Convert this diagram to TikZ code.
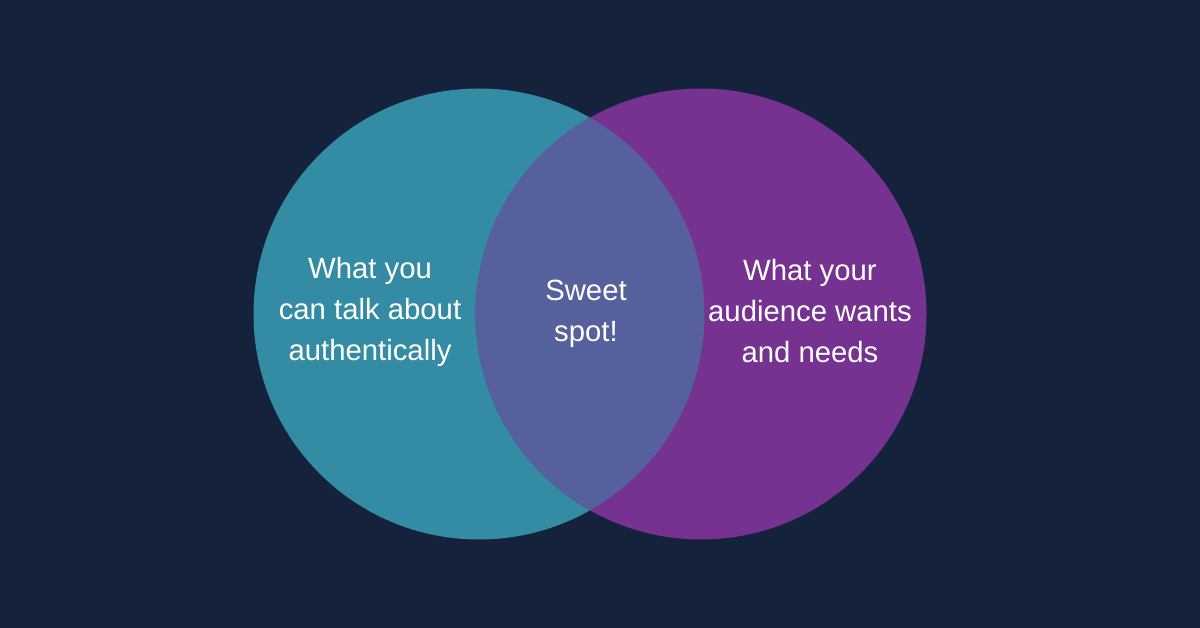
\documentclass[tikz,border=0pt]{standalone}
\usepackage{fontspec}
\setmainfont{Liberation Sans}
\definecolor{bg}{HTML}{15223B}
\definecolor{teal}{HTML}{338BA4}
\definecolor{purp}{HTML}{763290}
\definecolor{mix}{HTML}{56609C}
\begin{document}
\begin{tikzpicture}[x=1pt,y=-1pt,
  blob/.style={circle,inner sep=0pt,minimum size=451pt},
  lbl/.style={text=white,align=center,font=\fontsize{29.3}{41}\selectfont}]
\fill[bg] (0,0) rectangle (1200,628);
\useasboundingbox (0,0) rectangle (1200,628);
\node[blob,fill=teal] (L) at (479,314) {};
\node[blob,fill=purp] (R) at (701,314) {};
\begin{scope}
\clip (479,314) circle[radius=225.5pt];
\fill[mix] (701,314) circle[radius=225.5pt];
\end{scope}
\node[lbl] (lt) at (370,311.5) {What you\\can talk about\\authentically};
\node[lbl] (ct) at (586,314) {Sweet\\spot!};
\node[lbl] (rt) at (810,311) {What your\\audience wants\\and needs};
\end{tikzpicture}
\end{document}
